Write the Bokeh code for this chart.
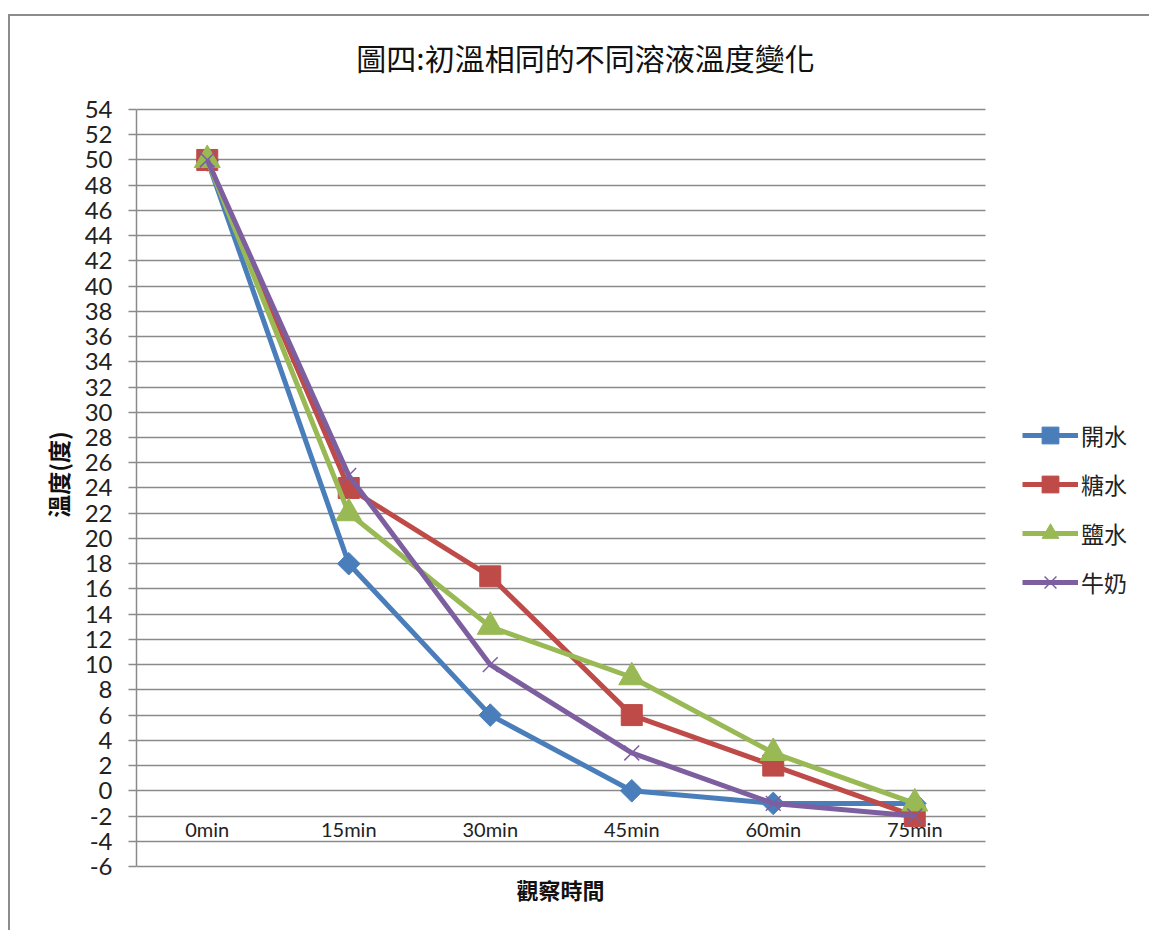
import math
from bokeh.plotting import figure
from bokeh.models import (FixedTicker, Legend, LegendItem, Label, Range1d,
                          BoxAnnotation, ColumnDataSource)
from bokeh.core.properties import value
from bokeh.embed import file_html
from bokeh.resources import INLINE

# Observation times and the four solutions' temperatures (degrees)
times = ["0min", "15min", "30min", "45min", "60min", "75min"]
boiled_water = [50, 18, 6, 0, -1, -1]     # 開水
sugar_water = [50, 24, 17, 6, 2, -2]      # 糖水
salt_water = [50, 22, 13, 9, 3, -1]       # 鹽水
milk = [50, 25, 10, 3, -1, -2]            # 牛奶

series_names = ["開水", "糖水", "鹽水", "牛奶"]
y_ticks = list(range(-6, 55, 2))

CJK = "Noto Sans CJK TC"
LAT = "Lato"
GRID = "#8a8a8a"

slots = list(range(len(times)))           # one slot per observation time
x_lo, x_hi = -0.5, len(times) - 0.5       # extent of the plotting area
y_lo, y_hi = y_ticks[0], y_ticks[-1]

# the frame spans the whole canvas right of the value axis, so the
# ranges reach past the plotting area to leave room for title and legend
p = figure(width=1141, height=916,
           x_range=Range1d(x_lo, 6.673), y_range=Range1d(-11.231, 61.371),
           x_axis_type=None,
           output_backend="svg", toolbar_location=None,
           min_border_left=126, min_border_right=0,
           min_border_top=0, min_border_bottom=0,
           styles={"margin-left": "8px", "margin-top": "14px",
                   "border-left": "2px solid #8c8c8c",
                   "border-top": "2px solid #8c8c8c"})
p.outline_line_color = None
p.background_fill_color = "white"
p.border_fill_color = "white"

# value axis
p.yaxis.ticker = FixedTicker(ticks=y_ticks)
p.yaxis.bounds = (y_lo, y_hi)
p.yaxis.major_label_overrides = {t: str(t) for t in y_ticks}
p.yaxis.minor_tick_line_color = None
p.yaxis.major_tick_in = 0
p.yaxis.major_tick_out = 8
p.yaxis.major_tick_line_color = GRID
p.yaxis.major_tick_line_width = 1.5
p.yaxis.axis_line_color = GRID
p.yaxis.axis_line_width = 1.5
p.yaxis.major_label_text_font = LAT
p.yaxis.major_label_text_font_size = "24px"
p.yaxis.major_label_text_color = "#222222"
p.yaxis.major_label_standoff = 16
p.yaxis.axis_label = "溫度(度)"
p.yaxis.axis_label_text_font = CJK
p.yaxis.axis_label_text_font_style = "bold"
p.yaxis.axis_label_text_font_size = "23px"
p.yaxis.axis_label_text_color = "#111111"
p.yaxis.axis_label_standoff = 7

p.ygrid.ticker = FixedTicker(ticks=y_ticks)
p.ygrid.grid_line_color = GRID
p.ygrid.grid_line_width = 1.5

# gridlines stop at the right edge of the plotting area
p.add_layout(BoxAnnotation(left=x_hi, fill_color="white", fill_alpha=1,
                           line_color=None, level="underlay"))

# category labels hang just below the -2 line
p.text(x=slots, y=[-2] * len(times), text=times, y_offset=13,
       text_font=value(LAT), text_font_size="20px", text_color="#222222",
       text_align="center", text_baseline="middle")

styles = [
    (boiled_water, "#4A7EBB", "square", 16, math.pi / 4),
    (sugar_water, "#BE4B48", "square", 21, 0),
    (salt_water, "#98B954", "triangle", 26, 0),
    (milk, "#7D5FA0", "x", 21, 0),
]

items = []
for name, (vals, color, marker, size, angle) in zip(series_names, styles):
    src = ColumnDataSource(dict(x=slots, y=vals))
    ln = p.line("x", "y", source=src, line_color=color, line_width=5)
    if marker == "x":
        sc = p.scatter("x", "y", source=src, marker="x", size=size,
                       line_color=color, line_width=1.5)
    else:
        sc = p.scatter("x", "y", source=src, marker=marker, size=size,
                       angle=angle, fill_color=color, line_color=color)
    items.append(LegendItem(label=name, renderers=[ln, sc]))

legend = Legend(items=items, location=(886, 329),
                glyph_width=56, glyph_height=42, label_height=42,
                spacing=7, padding=0, margin=0,
                label_text_font=CJK, label_text_font_size="23px",
                label_text_color="#222222", label_standoff=3,
                border_line_color=None, background_fill_alpha=0)
p.add_layout(legend, "center")

# title and category-axis title (positions relative to the plot frame)
p.add_layout(Label(x=449, y=876, x_units="screen", y_units="screen",
                   text="圖四:初溫相同的不同溶液溫度變化", text_font=CJK,
                   text_font_size="30px", text_color="#111111",
                   text_align="center", text_baseline="middle"))
p.add_layout(Label(x=424, y=44, x_units="screen", y_units="screen",
                   text="觀察時間", text_font=CJK, text_font_style="bold",
                   text_font_size="22px", text_color="#111111",
                   text_align="center", text_baseline="middle"))

open("out.html", "w").write(file_html(p, INLINE))
